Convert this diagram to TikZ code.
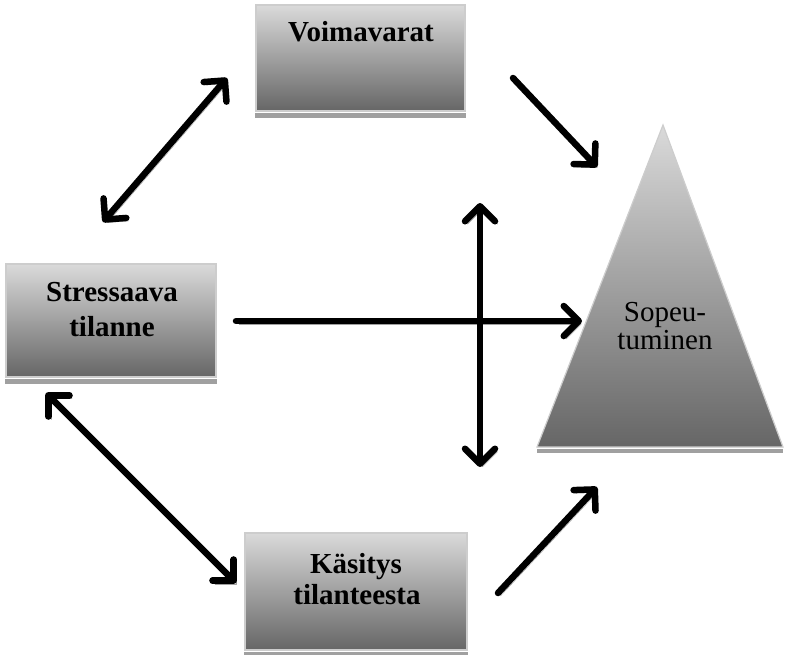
\documentclass[tikz,border=0pt]{standalone}
\usepackage{fontspec}
\setmainfont{Liberation Serif}
\usetikzlibrary{arrows.meta}
\definecolor{gtop}{RGB}{218,218,218}
\definecolor{gbot}{RGB}{102,102,102}
\definecolor{shadowgray}{RGB}{160,160,160}
\definecolor{edgegray}{RGB}{205,205,205}
\begin{document}
\begin{tikzpicture}[x=1pt,y=-1pt,
  box/.style={draw=edgegray, line width=1.2pt, top color=gtop, bottom color=gbot, inner sep=0pt},
  lbl/.style={font=\bfseries\fontsize{29}{32}\selectfont, anchor=base, inner sep=0pt},
  tlbl/.style={font=\fontsize{29}{28}\selectfont, align=center, inner sep=0pt},
  arr/.style={line width=6.5pt, black, line cap=round,
    >={Straight Barb[length=15pt,width=30pt,round]},
    preaction={draw=shadowgray, transform canvas={xshift=2.5pt,yshift=-3pt}}}]
\useasboundingbox (0,0) rectangle (785,654);
% boxes
\node[box, minimum width=209pt, minimum height=106pt] (voima) at (360.5,58) {};
\node[box, minimum width=210pt, minimum height=113pt] (stress) at (111,320.5) {};
\node[box, minimum width=222pt, minimum height=117pt] (kasitys) at (356,591.5) {};
\foreach \b in {voima,stress,kasitys}
  \fill[shadowgray] ([yshift=-1pt]\b.south west) rectangle ([yshift=-6pt]\b.south east);
% triangle
\shade[top color=gtop, bottom color=gbot, draw=edgegray, line width=1.2pt]
  (663,125) -- (783,447) -- (537,447) -- cycle;
\fill[shadowgray] (537,449) rectangle (783,453);
% labels
\node[lbl] (voimat) at (361,41) {Voimavarat};
\node[lbl] (stresst1) at (112,301) {Stressaava};
\node[lbl] (stresst2) at (112,336) {tilanne};
\node[lbl] (kasityst1) at (356,573) {Käsitys};
\node[lbl] (kasityst2) at (357,604) {tilanteesta};
\node[tlbl] (sop) at (665,326) {Sopeu-\\tuminen};
% arrow end points
\coordinate (a1s) at (103,222); \coordinate (a1e) at (227,78);
\coordinate (a2s) at (513,78);  \coordinate (a2e) at (597,167);
\coordinate (a3s) at (236,321); \coordinate (a3e) at (582,321);
\coordinate (a4s) at (480,467); \coordinate (a4e) at (480,203);
\coordinate (a5s) at (46,393);  \coordinate (a5e) at (236,583);
\coordinate (a6s) at (498,593); \coordinate (a6e) at (597,487);
\draw[arr,<->] (a1s) -- (a1e);
\draw[arr,->] (a2s) -- (a2e);
\draw[arr,->] (a3s) -- (a3e);
\draw[arr,<->] (a4s) -- (a4e);
\draw[arr,<->] (a5s) -- (a5e);
\draw[arr,->] (a6s) -- (a6e);
\end{tikzpicture}
\end{document}
